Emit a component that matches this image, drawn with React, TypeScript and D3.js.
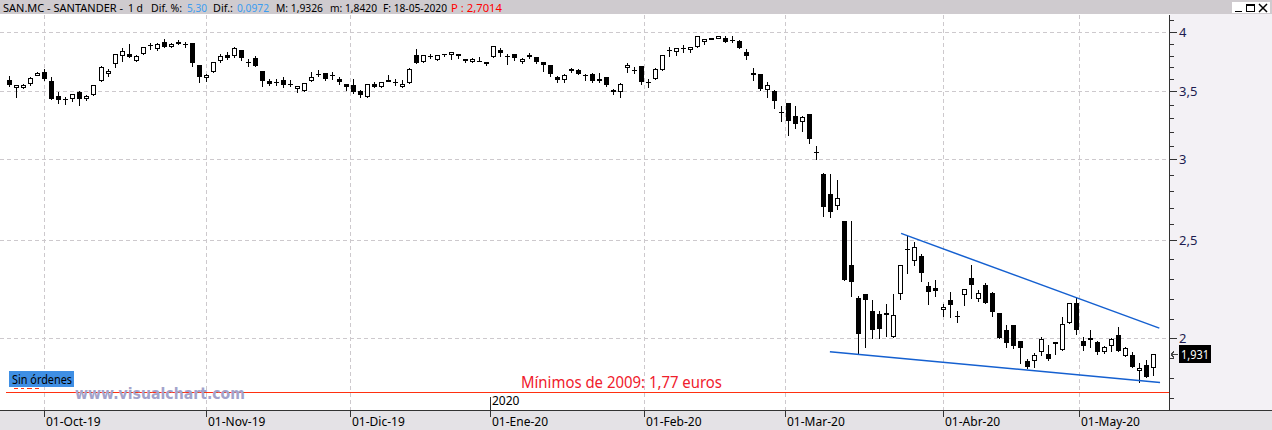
import React from "react";
import * as d3 from "d3";

// ---- Data (SAN.MC daily candles, 24-Sep-2019 .. 18-May-2020) ----
const opens = [
  3.588, 3.53, 3.53, 3.556, 3.626, 3.653, 3.578, 3.46, 3.44, 3.44,
  3.49, 3.44, 3.467, 3.577, 3.66, 3.717, 3.79, 3.805, 3.75, 3.81,
  3.88, 3.85, 3.91, 3.875, 3.91, 3.89, 3.90, 3.71, 3.61, 3.655,
  3.75, 3.80, 3.79, 3.84, 3.74, 3.77, 3.665, 3.58, 3.575, 3.59,
  3.555, 3.52, 3.50, 3.58, 3.64, 3.645, 3.63, 3.60, 3.56, 3.548,
  3.50, 3.455, 3.56, 3.535, 3.59, 3.57, 3.535, 3.565, 3.80, 3.735,
  3.79, 3.755, 3.81, 3.795, 3.805, 3.76, 3.735, 3.75, 3.74, 3.78,
  3.84, 3.79, 3.805, 3.735, 3.795, 3.78, 3.735, 3.71, 3.615, 3.59,
  3.68, 3.67, 3.63, 3.635, 3.60, 3.615, 3.51, 3.495, 3.69, 3.67,
  3.70, 3.57, 3.60, 3.67, 3.84, 3.82, 3.855, 3.85, 3.87, 3.92,
  3.95, 3.945, 3.95, 3.93, 3.92, 3.82, 3.645, 3.635, 3.51, 3.50,
  3.34, 3.41, 3.31, 3.26, 3.32, 3.05, 2.90, 2.77, 2.70, 2.61,
  2.36, 2.19, 2.21, 2.13, 2.115, 2.12, 2.005, 2.21, 2.45, 2.38,
  2.41, 2.25, 2.24, 2.135, 2.18, 2.105, 2.205, 2.295, 2.185, 2.255,
  2.215, 2.12, 2.04, 2.06, 1.99, 1.90, 1.90, 1.94, 1.93, 1.985,
  1.95, 2.07, 2.165, 1.99, 2.00, 1.985, 1.94, 1.965, 2.015, 1.92,
  1.925, 1.86, 1.885, 1.87,
];
const highs = [
  3.62, 3.55, 3.56, 3.613, 3.653, 3.68, 3.61, 3.49, 3.455, 3.48,
  3.50, 3.47, 3.548, 3.70, 3.68, 3.805, 3.86, 3.89, 3.80, 3.87,
  3.90, 3.90, 3.94, 3.90, 3.925, 3.91, 3.90, 3.71, 3.64, 3.735,
  3.81, 3.82, 3.865, 3.84, 3.76, 3.79, 3.665, 3.60, 3.60, 3.615,
  3.59, 3.54, 3.565, 3.655, 3.67, 3.645, 3.65, 3.615, 3.56, 3.595,
  3.51, 3.555, 3.57, 3.575, 3.63, 3.60, 3.59, 3.69, 3.85, 3.80,
  3.81, 3.80, 3.81, 3.825, 3.805, 3.76, 3.77, 3.78, 3.74, 3.875,
  3.855, 3.805, 3.81, 3.775, 3.815, 3.78, 3.735, 3.71, 3.625, 3.64,
  3.69, 3.675, 3.64, 3.645, 3.645, 3.615, 3.52, 3.565, 3.73, 3.695,
  3.70, 3.60, 3.69, 3.80, 3.87, 3.86, 3.88, 3.87, 3.96, 3.94,
  3.95, 3.96, 3.965, 3.965, 3.93, 3.85, 3.685, 3.635, 3.57, 3.51,
  3.38, 3.41, 3.38, 3.31, 3.32, 3.09, 2.91, 2.90, 2.86, 2.61,
  2.61, 2.20, 2.21, 2.18, 2.13, 2.16, 2.21, 2.36, 2.52, 2.49,
  2.42, 2.27, 2.28, 2.16, 2.22, 2.13, 2.235, 2.36, 2.23, 2.265,
  2.22, 2.12, 2.06, 2.06, 1.99, 1.91, 1.935, 2.005, 1.97, 1.985,
  2.10, 2.165, 2.19, 2.005, 2.04, 1.99, 1.965, 2.00, 2.05, 1.96,
  1.94, 1.89, 1.905, 1.9326,
];
const lows = [
  3.54, 3.456, 3.525, 3.545, 3.626, 3.588, 3.44, 3.41, 3.40, 3.42,
  3.39, 3.43, 3.467, 3.577, 3.625, 3.695, 3.75, 3.78, 3.75, 3.81,
  3.85, 3.84, 3.87, 3.87, 3.89, 3.865, 3.70, 3.57, 3.58, 3.655,
  3.74, 3.76, 3.78, 3.755, 3.70, 3.70, 3.54, 3.55, 3.55, 3.53,
  3.54, 3.49, 3.50, 3.58, 3.625, 3.59, 3.60, 3.56, 3.51, 3.485,
  3.45, 3.455, 3.535, 3.53, 3.58, 3.55, 3.535, 3.565, 3.73, 3.735,
  3.775, 3.755, 3.785, 3.76, 3.775, 3.735, 3.735, 3.75, 3.71, 3.78,
  3.785, 3.72, 3.755, 3.73, 3.775, 3.73, 3.665, 3.62, 3.575, 3.57,
  3.655, 3.635, 3.59, 3.575, 3.57, 3.54, 3.475, 3.455, 3.65, 3.645,
  3.555, 3.535, 3.595, 3.67, 3.79, 3.80, 3.82, 3.825, 3.87, 3.89,
  3.935, 3.945, 3.91, 3.91, 3.86, 3.76, 3.59, 3.51, 3.45, 3.37,
  3.27, 3.17, 3.22, 3.20, 3.11, 3.00, 2.64, 2.63, 2.68, 2.28,
  2.20, 1.93, 1.96, 2.00, 2.00, 2.01, 2.005, 2.185, 2.32, 2.36,
  2.275, 2.16, 2.20, 2.105, 2.10, 2.075, 2.155, 2.19, 2.175, 2.165,
  2.105, 2.00, 1.96, 1.955, 1.89, 1.87, 1.875, 1.925, 1.905, 1.93,
  1.95, 2.07, 2.02, 1.95, 1.96, 1.93, 1.935, 1.945, 1.945, 1.92,
  1.875, 1.81, 1.834, 1.842,
];
const closes = [
  3.548, 3.55, 3.55, 3.603, 3.648, 3.594, 3.44, 3.43, 3.44, 3.48,
  3.44, 3.46, 3.548, 3.695, 3.665, 3.805, 3.83, 3.78, 3.79, 3.87,
  3.88, 3.89, 3.87, 3.89, 3.89, 3.89, 3.73, 3.61, 3.63, 3.735,
  3.79, 3.77, 3.855, 3.77, 3.74, 3.70, 3.58, 3.56, 3.575, 3.55,
  3.555, 3.54, 3.565, 3.615, 3.64, 3.60, 3.63, 3.575, 3.535, 3.495,
  3.465, 3.555, 3.535, 3.575, 3.58, 3.57, 3.56, 3.68, 3.73, 3.80,
  3.79, 3.80, 3.81, 3.825, 3.785, 3.75, 3.76, 3.75, 3.73, 3.875,
  3.815, 3.79, 3.77, 3.76, 3.785, 3.735, 3.71, 3.635, 3.59, 3.63,
  3.665, 3.64, 3.63, 3.58, 3.58, 3.548, 3.49, 3.555, 3.71, 3.67,
  3.57, 3.57, 3.68, 3.80, 3.84, 3.86, 3.855, 3.87, 3.96, 3.94,
  3.935, 3.96, 3.91, 3.93, 3.86, 3.79, 3.63, 3.52, 3.55, 3.425,
  3.34, 3.27, 3.25, 3.30, 3.14, 3.05, 2.69, 2.66, 2.745, 2.28,
  2.27, 2.02, 2.18, 2.04, 2.045, 2.11, 2.11, 2.36, 2.45, 2.46,
  2.32, 2.22, 2.225, 2.145, 2.155, 2.105, 2.235, 2.255, 2.215, 2.165,
  2.125, 2.00, 1.98, 1.965, 1.955, 1.875, 1.925, 1.995, 1.91, 1.975,
  2.065, 2.165, 2.04, 1.965, 1.995, 1.94, 1.96, 1.995, 1.945, 1.955,
  1.875, 1.87, 1.834, 1.931,
];

const startDate = "2019-09-24";
const holidays = ["2019-12-25", "2019-12-26", "2020-01-01", "2020-04-10", "2020-04-13", "2020-05-01"];
const monthStarts = ["2019-10-01", "2019-11-01", "2019-12-01", "2020-01-01", "2020-02-01", "2020-03-01", "2020-04-01", "2020-05-01"];
const monthLabels = ["01-Oct-19", "01-Nov-19", "01-Dic-19", "01-Ene-20", "01-Feb-20", "01-Mar-20", "01-Abr-20", "01-May-20"];
const monthGrid = [true, true, true, false, true, true, true, true];
const majorTicks = [4, 3.5, 3, 2.5, 2];
const majorTickLabels = ["4", "3,5", "3", "2,5", "2"];
const upperTrend: [number, number][] = [[127.1, 2.536], [163.9, 2.047]];
const lowerTrend: [number, number][] = [[116.95, 1.94], [164, 1.81]];
const minimo2009 = 1.77;
const lastPrice = 1.931;
const lastPriceLabel = "1,931";

const fmt = d3.utcFormat("%Y-%m-%d");
function tradingDays(n: number): string[] {
  const out: string[] = [];
  let d = new Date(startDate + "T00:00:00Z");
  while (out.length < n) {
    const wd = d.getUTCDay();
    const s = fmt(d);
    if (wd !== 0 && wd !== 6 && !holidays.includes(s)) out.push(s);
    d = new Date(d.getTime() + 86400000);
  }
  return out;
}

const FONT = "'Noto Sans', 'Open Sans', sans-serif";

export default function App() {
  const n = opens.length;
  const dates = tradingDays(n);
  const x = d3.scaleLinear().domain([0, n - 1]).range([9.3, 1153]);
  const step = x(1) - x(0);
  const y = d3.scaleLog().domain([1.7, 4]).range([410.2, 32]);
  const cx = (i: number) => Math.round(x(i));

  const monthX = monthStarts.map((m) => {
    const idx = dates.findIndex((d) => d >= m);
    const off = dates[idx] === m ? 0 : step / 2;
    return Math.round(x(idx) - off);
  });

  // minor ticks: 5 equal pixel subdivisions per major interval
  const minor: number[] = [];
  for (let k = 0; k < majorTicks.length - 1; k++) {
    const a = y(majorTicks[k]);
    const b = y(majorTicks[k + 1]);
    for (let j = 1; j < 5; j++) minor.push(a + ((b - a) * j) / 5);
  }
  {
    const a = y(majorTicks[0]);
    const b = y(majorTicks[1]);
    minor.push(a - (b - a) / 5);
    const c = y(2.5);
    const e = y(2);
    const st = (e - c) / 5;
    for (let p = e + st; p < 409; p += st) minor.push(p);
  }

  const line = d3
    .line<[number, number]>()
    .x((d) => x(d[0]))
    .y((d) => y(d[1]));

  const candles = opens.map((o, i) => {
    const c = closes[i];
    const X = cx(i);
    const yo = y(o);
    const yc = y(c);
    const top = Math.round(Math.min(yo, yc));
    let bot = Math.round(Math.max(yo, yc));
    const wick = (
      <line key="w" x1={X + 0.5} x2={X + 0.5} y1={Math.round(y(highs[i]))} y2={Math.round(y(lows[i])) + 1} stroke="#000" strokeWidth={1} />
    );
    let body;
    if (o === c) {
      body = <line key="b" x1={X - 2} x2={X + 3} y1={top + 0.5} y2={top + 0.5} stroke="#000" strokeWidth={1} />;
    } else if (c > o) {
      if (bot - top < 3) bot = top + 3;
      body = <rect key="b" x={X - 1.5} y={top + 0.5} width={4} height={bot - top - 1} fill="#fff" stroke="#000" strokeWidth={1} />;
    } else {
      if (bot - top < 2) bot = top + 2;
      body = <rect key="b" x={X - 2} y={top} width={5} height={bot - top} fill="#000" />;
    }
    return (
      <g key={i}>
        {wick}
        {body}
      </g>
    );
  });

  const yRed = Math.round(y(minimo2009)) + 0.5;
  const yLast = Math.round(y(lastPrice));

  return (
    <svg
      width={1272}
      height={430}
      style={{ position: "absolute", left: 0, top: 0, display: "block" }}
      fontFamily={FONT}
      shapeRendering="crispEdges"
    >
      <rect x={0} y={0} width={1272} height={430} fill="#fff" />
      {/* header */}
      <rect x={0} y={0} width={1272} height={14} fill="#cfcbcf" />
      {/* right panel */}
      <rect x={1170} y={14} width={102} height={397} fill="#f3f1f5" />
      {/* bottom panel */}
      <rect x={0} y={411} width={1272} height={19} fill="#e4e2e6" />

      {/* horizontal grid */}
      {majorTicks.map((v, k) => (
        <line key={"hg" + k} x1={0} x2={1169} y1={Math.round(y(v)) + 0.5} y2={Math.round(y(v)) + 0.5} stroke="#cdc9cd" strokeDasharray="4,3" />
      ))}
      {/* vertical grid */}
      {monthX.map((mx, k) =>
        monthGrid[k] ? (
          <line key={"vg" + k} x1={mx + 0.5} x2={mx + 0.5} y1={15} y2={410} stroke="#cdc9cd" strokeDasharray="4,3" />
        ) : null
      )}

      {/* red minimum line */}
      <line x1={6} x2={1169} y1={yRed} y2={yRed} stroke="#ff3010" strokeWidth={1} />
      <path d="M14,388 h4 M21,388 h3 M27,388 h5 M35,388 h4" stroke="#ff3010" strokeWidth={1} />

      {/* candles */}
      <g>{candles}</g>

      {/* trend lines */}
      <path d={line(upperTrend) || ""} stroke="#1560d0" strokeWidth={1.5} fill="none" shapeRendering="auto" />
      <path d={line(lowerTrend) || ""} stroke="#1560d0" strokeWidth={1.5} fill="none" shapeRendering="auto" />

      {/* right axis */}
      <line x1={1169.5} x2={1169.5} y1={15} y2={410} stroke="#333" />
      {majorTicks.map((v, k) => (
        <g key={"mt" + k}>
          <line x1={1169} x2={1177} y1={Math.round(y(v)) + 0.5} y2={Math.round(y(v)) + 0.5} stroke="#333" />
          <text x={1179} y={Math.round(y(v)) + 4.5} fontSize={13} fill="#1c1c50" shapeRendering="auto">
            {majorTickLabels[k]}
          </text>
        </g>
      ))}
      {minor.map((p, k) => (
        <line key={"mn" + k} x1={1169} x2={1174} y1={Math.round(p) + 0.5} y2={Math.round(p) + 0.5} stroke="#333" />
      ))}

      {/* bottom axis */}
      <line x1={0} x2={1272} y1={410.5} y2={410.5} stroke="#333" />
      {monthX.map((mx, k) => (
        <g key={"bt" + k}>
          <line x1={mx + 0.5} x2={mx + 0.5} y1={410} y2={417} stroke="#333" />
          <text x={mx + 2} y={426} fontSize={12} fill="#000" shapeRendering="auto">
            {monthLabels[k]}
          </text>
        </g>
      ))}
      <line x1={monthX[3] + 0.5} x2={monthX[3] + 0.5} y1={397} y2={410} stroke="#333" />
      <text x={monthX[3] + 2} y={405} fontSize={12} fill="#000" shapeRendering="auto">2020</text>

      {/* last price label */}
      <path d={`M1171,${yLast + 0.5} L1178,${yLast + 0.5} M1171,${yLast + 0.5} L1174,${yLast - 2.5} M1171,${yLast + 0.5} L1174,${yLast + 3.5}`} stroke="#444" fill="none" />
      <rect x={1179} y={yLast - 9} width={32} height={18} fill="#000" />
      <text x={1181} y={yLast + 4.5} fontSize={12.5} fill="#fff" textLength={28} lengthAdjust="spacingAndGlyphs" shapeRendering="auto">{lastPriceLabel}</text>

      {/* annotations */}
      <rect x={9} y={371} width={65} height={16} fill="#3f8fe4" />
      <text x={12} y={383.5} fontSize={12} fill="#000" textLength={60} lengthAdjust="spacingAndGlyphs" shapeRendering="auto">Sin órdenes</text>
      <text x={75} y={399} fontSize={15} fontWeight="bold" fontFamily="'DejaVu Sans', sans-serif" fill="#a3a3cb" textLength={170} lengthAdjust="spacingAndGlyphs" shapeRendering="auto">
        www.visualchart.com
      </text>
      <text x={521} y={388} fontSize={16} fill="#f0202c" textLength={201} lengthAdjust="spacingAndGlyphs" shapeRendering="auto">
        Mínimos de 2009: 1,77 euros
      </text>

      {/* header texts */}
      <g fontSize={11.5} shapeRendering="auto">
        <text x={3} y={12} fill="#000" textLength={120} lengthAdjust="spacingAndGlyphs">SAN.MC - SANTANDER -</text>
        <text x={128} y={12} fill="#000" textLength={15} lengthAdjust="spacingAndGlyphs">1 d</text>
        <text x={151} y={12} fill="#000" textLength={31} lengthAdjust="spacingAndGlyphs">Dif. %:</text>
        <text x={187} y={12} fill="#3b9cf0" textLength={20} lengthAdjust="spacingAndGlyphs">5,30</text>
        <text x={213} y={12} fill="#000" textLength={20} lengthAdjust="spacingAndGlyphs">Dif.:</text>
        <text x={237} y={12} fill="#3b9cf0" textLength={32} lengthAdjust="spacingAndGlyphs">0,0972</text>
        <text x={276} y={12} fill="#000" textLength={47} lengthAdjust="spacingAndGlyphs">M: 1,9326</text>
        <text x={330} y={12} fill="#000" textLength={47} lengthAdjust="spacingAndGlyphs">m: 1,8420</text>
        <text x={383} y={12} fill="#000" textLength={64} lengthAdjust="spacingAndGlyphs">F: 18-05-2020</text>
        <text x={451} y={12} fill="#ff0000" textLength={51} lengthAdjust="spacingAndGlyphs">P : 2,7014</text>
      </g>

      {/* window buttons */}
      <rect x={1232} y={2} width={38} height={11} fill="#ffffff" />
      <line x1={1235} x2={1242} y1={11.5} y2={11.5} stroke="#000" strokeWidth={1} />
      <rect x={1246.5} y={4.5} width={8} height={7} fill="none" stroke="#000" />
      <line x1={1246} x2={1255} y1={5} y2={5} stroke="#000" strokeWidth={2} />
      <path d="M1259,4 L1267,12 M1267,4 L1259,12" stroke="#000" strokeWidth={1.5} shapeRendering="auto" />
    </svg>
  );
}
